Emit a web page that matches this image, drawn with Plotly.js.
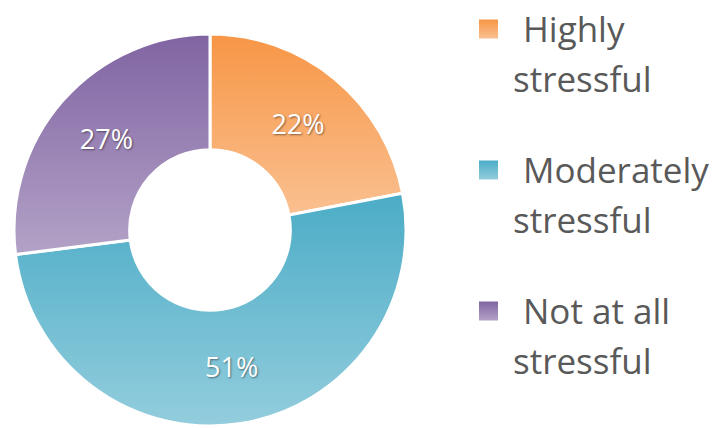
<!DOCTYPE html>
<html>
<head>
<meta charset="utf-8">
<script src="https://cdn.plot.ly/plotly-3.0.1.min.js"></script>
<style>
html,body{margin:0;padding:0;background:#fff;}
#chart{width:725px;height:428px;}
</style>
</head>
<body>
<div id="chart"></div>
<script>
// ---- data ----
const categories = ['Highly stressful', 'Moderately stressful', 'Not at all stressful'];
const values = [22, 51, 27];
const colorsTop = ['#F79646', '#4BACC6', '#8064A2'];
const colorsBottom = ['#FAC090', '#93CDDD', '#B3A2C7'];
const colorsMid = ['#F8AB6B', '#6FBDD2', '#9A83B5'];

// ---- legend built from categories ----
const legendTop = 29;      // px from top of first item's marker centre
const itemGap = 141;       // px between items
const lineGap = 50;        // px between the two lines of an item
const H = 428, W = 725;
const annotations = [];
const shapes = [];
categories.forEach((c, i) => {
  const k = c.lastIndexOf(' ');
  const line1 = c.slice(0, k), line2 = c.slice(k + 1);
  const yc = legendTop + i * itemGap;
  shapes.push({
    type: 'rect', xref: 'paper', yref: 'paper',
    x0: 479 / W, x1: 498 / W, y0: 1 - (yc - 9.5) / H, y1: 1 - (yc + 9.5) / H,
    fillcolor: colorsMid[i], line: {width: 0}
  });
  annotations.push({
    xref: 'paper', yref: 'paper', x: 521 / W, y: 1 - (yc + 25) / H,
    xanchor: 'left', yanchor: 'bottom', showarrow: false, text: line1,
    font: {family: 'Open Sans', size: 35, color: '#595959'}
  });
  annotations.push({
    xref: 'paper', yref: 'paper', x: 511 / W, y: 1 - (yc + 25 + lineGap) / H,
    xanchor: 'left', yanchor: 'bottom', showarrow: false, text: line2,
    font: {family: 'Open Sans', size: 35, color: '#595959'}
  });
});

const trace = {
  type: 'pie',
  labels: categories,
  values: values,
  sort: false,
  direction: 'clockwise',
  rotation: 0,
  hole: 0.41,
  domain: {x: [14 / W, 406 / W], y: [(198 - 196) / H, (198 + 196) / H]},
  marker: {colors: colorsMid, line: {color: '#ffffff', width: 3}},
  textinfo: 'percent',
  texttemplate: '%{percent:.0%}',
  textposition: 'inside',
  insidetextorientation: 'horizontal',
  textfont: {family: 'Open Sans', size: 27, color: '#ffffff', shadow: '1px 1px 2px rgba(0,0,0,0.45)'},
  showlegend: false,
  hoverinfo: 'none'
};

const layout = {
  width: W, height: H,
  margin: {l: 0, r: 0, t: 0, b: 0},
  paper_bgcolor: '#ffffff',
  plot_bgcolor: '#ffffff',
  showlegend: false,
  annotations: annotations,
  shapes: shapes
};

function applyGradients(gd) {
  const svg = gd.querySelector('svg.main-svg');
  if (!svg) return;
  let defs = svg.querySelector('defs');
  if (!defs) { defs = document.createElementNS('http://www.w3.org/2000/svg', 'defs'); svg.insertBefore(defs, svg.firstChild); }
  colorsTop.forEach((c, i) => {
    if (defs.querySelector('#sliceGrad' + i)) return;
    const g = document.createElementNS('http://www.w3.org/2000/svg', 'linearGradient');
    g.setAttribute('id', 'sliceGrad' + i);
    g.setAttribute('x1', '0'); g.setAttribute('y1', '0');
    g.setAttribute('x2', '0'); g.setAttribute('y2', '1');
    const s1 = document.createElementNS('http://www.w3.org/2000/svg', 'stop');
    s1.setAttribute('offset', '0'); s1.setAttribute('stop-color', c);
    const s2 = document.createElementNS('http://www.w3.org/2000/svg', 'stop');
    s2.setAttribute('offset', '1'); s2.setAttribute('stop-color', colorsBottom[i]);
    g.appendChild(s1); g.appendChild(s2);
    defs.appendChild(g);
  });
  gd.querySelectorAll('g.slice path.surface').forEach((p, i) => {
    p.style.fill = 'url(#sliceGrad' + (i % 3) + ')';
  });
  const sp = gd.querySelectorAll('.shapelayer path');
  sp.forEach((p, i) => { if (i < 3) p.style.fill = 'url(#sliceGrad' + i + ')'; });
}

Plotly.newPlot('chart', [trace], layout, {staticPlot: true, displayModeBar: false}).then(gd => {
  applyGradients(gd);
  gd.on('plotly_afterplot', () => applyGradients(gd));
});
</script>
</body>
</html>
